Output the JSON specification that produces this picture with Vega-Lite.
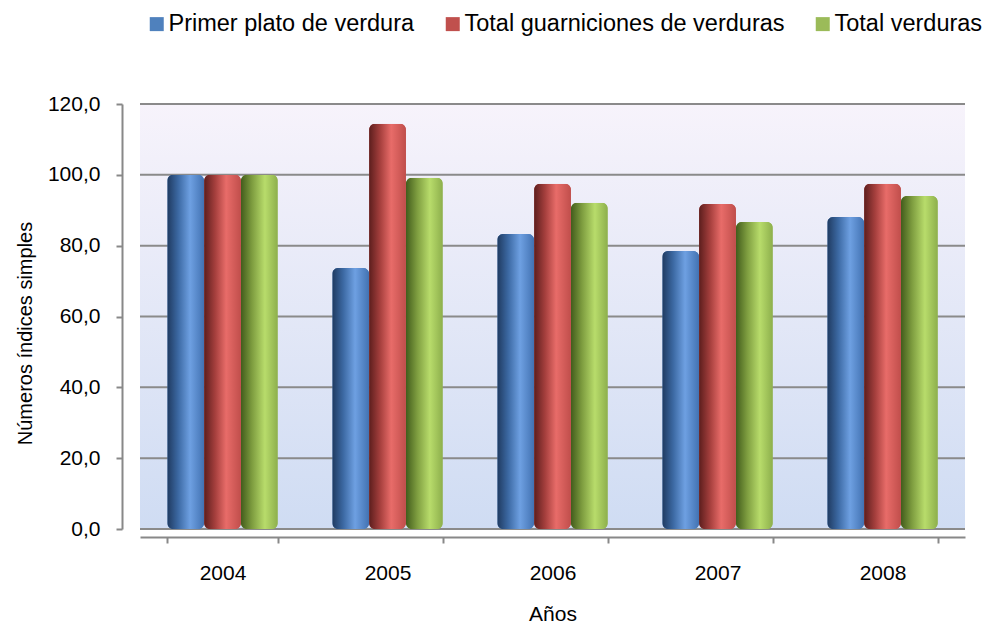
{
  "$schema": "https://vega.github.io/schema/vega-lite/v6.json",
  "width": 825,
  "height": 425,
  "autosize": {"type": "none"},
  "padding": {"left": 140, "top": 104, "right": 24, "bottom": 96},
  "background": "white",
  "config": {
    "font": "Liberation Sans",
    "view": {"stroke": null},
    "legend": {"padding": 0}
  },
  "data": {
    "values": [
      {"anio": "2004", "serie": "Primer plato de verdura", "valor": 100.0},
      {"anio": "2004", "serie": "Total guarniciones de verduras", "valor": 100.0},
      {"anio": "2004", "serie": "Total verduras", "valor": 100.0},
      {"anio": "2005", "serie": "Primer plato de verdura", "valor": 73.7},
      {"anio": "2005", "serie": "Total guarniciones de verduras", "valor": 114.4},
      {"anio": "2005", "serie": "Total verduras", "valor": 99.2},
      {"anio": "2006", "serie": "Primer plato de verdura", "valor": 83.3},
      {"anio": "2006", "serie": "Total guarniciones de verduras", "valor": 97.5},
      {"anio": "2006", "serie": "Total verduras", "valor": 92.1},
      {"anio": "2007", "serie": "Primer plato de verdura", "valor": 78.5},
      {"anio": "2007", "serie": "Total guarniciones de verduras", "valor": 91.8},
      {"anio": "2007", "serie": "Total verduras", "valor": 86.7},
      {"anio": "2008", "serie": "Primer plato de verdura", "valor": 88.1},
      {"anio": "2008", "serie": "Total guarniciones de verduras", "valor": 97.5},
      {"anio": "2008", "serie": "Total verduras", "valor": 94.0}
    ]
  },
  "layer": [
    {
      "data": {"values": [{"k": "pared"}]},
      "mark": {
        "type": "rect",
        "fill": {
          "gradient": "linear", "x1": 0, "y1": 0, "x2": 0, "y2": 1,
          "stops": [
            {"offset": 0, "color": "#f7f3fb"},
            {"offset": 1, "color": "#cfdcf3"}
          ]
        }
      },
      "encoding": {
        "y": {"datum": 0, "type": "quantitative", "scale": {"domain": [0, 120], "nice": false}},
        "y2": {"datum": 120}
      }
    },
    {
      "data": {"values": [{"g": 0}, {"g": 20}, {"g": 40}, {"g": 60}, {"g": 80}, {"g": 100}, {"g": 120}]},
      "mark": {"type": "rule", "color": "#8a8a8a", "strokeWidth": 2},
      "encoding": {
        "y": {"field": "g", "type": "quantitative"}
      }
    },
    {
      "mark": {"type": "bar", "cornerRadius": 6},
      "encoding": {
        "x": {
          "field": "anio", "type": "nominal",
          "scale": {"paddingInner": 0.33, "paddingOuter": 0.165},
          "axis": {
            "title": "Años", "labelAngle": 0, "offset": 8,
            "domainColor": "#888888", "domainWidth": 2,
            "tickColor": "#888888", "tickWidth": 2, "tickSize": 6, "tickBand": "extent",
            "labelFontSize": 21, "labelColor": "#000000", "labelPadding": 19,
            "titleFontSize": 21, "titleFontWeight": "normal", "titleColor": "#000000", "titlePadding": 20
          }
        },
        "xOffset": {
          "field": "serie", "type": "nominal",
          "scale": {"domain": ["Primer plato de verdura", "Total guarniciones de verduras", "Total verduras"]}
        },
        "y": {
          "field": "valor", "type": "quantitative",
          "scale": {"domain": [0, 120], "nice": false},
          "axis": {
            "title": "Números índices simples", "values": [0, 20, 40, 60, 80, 100, 120],
            "labelExpr": "replace(format(datum.value, '.1f'), '.', ',')",
            "offset": 18, "grid": false,
            "domainColor": "#888888", "domainWidth": 2,
            "tickColor": "#888888", "tickWidth": 2, "tickSize": 6,
            "labelFontSize": 21, "labelColor": "#000000", "labelPadding": 16,
            "titleFontSize": 20, "titleFontWeight": "normal", "titleColor": "#000000", "titlePadding": 12,
            "titleY": 229
          }
        },
        "color": {
          "field": "serie", "type": "nominal",
          "scale": {
            "domain": ["Primer plato de verdura", "Total guarniciones de verduras", "Total verduras"],
            "range": ["#4f81bd", "#c0504d", "#9bbb59"]
          },
          "legend": {
            "title": null, "orient": "none", "direction": "horizontal",
            "legendX": 5, "legendY": -92,
            "symbolType": "square", "symbolSize": 196, "symbolStrokeWidth": 0, "symbolOpacity": 1,
            "labelFontSize": 23.5, "labelColor": "#000000", "labelOffset": 0, "columnPadding": 26,
            "labelLimit": 500
          }
        }
      }
    },
    {
      "transform": [{"filter": "datum.serie === 'Primer plato de verdura'"}],
      "mark": {
        "type": "bar", "cornerRadius": 6,
        "fill": {
          "gradient": "linear", "x1": 0, "y1": 0, "x2": 1, "y2": 0,
          "stops": [
            {"offset": 0, "color": "#1f3a60"},
            {"offset": 0.3, "color": "#3c69a3"},
            {"offset": 0.62, "color": "#6ea0e2"},
            {"offset": 1, "color": "#4272b2"}
          ]
        }
      },
      "encoding": {
        "x": {"field": "anio", "type": "nominal"},
        "xOffset": {"field": "serie", "type": "nominal"},
        "y": {"field": "valor", "type": "quantitative"}
      }
    },
    {
      "transform": [{"filter": "datum.serie === 'Total guarniciones de verduras'"}],
      "mark": {
        "type": "bar", "cornerRadius": 6,
        "fill": {
          "gradient": "linear", "x1": 0, "y1": 0, "x2": 1, "y2": 0,
          "stops": [
            {"offset": 0, "color": "#5c1e1d"},
            {"offset": 0.3, "color": "#a53f3d"},
            {"offset": 0.6, "color": "#e86c69"},
            {"offset": 1, "color": "#c04e4b"}
          ]
        }
      },
      "encoding": {
        "x": {"field": "anio", "type": "nominal"},
        "xOffset": {"field": "serie", "type": "nominal"},
        "y": {"field": "valor", "type": "quantitative"}
      }
    },
    {
      "transform": [{"filter": "datum.serie === 'Total verduras'"}],
      "mark": {
        "type": "bar", "cornerRadius": 6,
        "fill": {
          "gradient": "linear", "x1": 0, "y1": 0, "x2": 1, "y2": 0,
          "stops": [
            {"offset": 0, "color": "#425c1c"},
            {"offset": 0.3, "color": "#7d9c3f"},
            {"offset": 0.65, "color": "#b8dc6b"},
            {"offset": 1, "color": "#8daf4c"}
          ]
        }
      },
      "encoding": {
        "x": {"field": "anio", "type": "nominal"},
        "xOffset": {"field": "serie", "type": "nominal"},
        "y": {"field": "valor", "type": "quantitative"}
      }
    }
  ]
}
